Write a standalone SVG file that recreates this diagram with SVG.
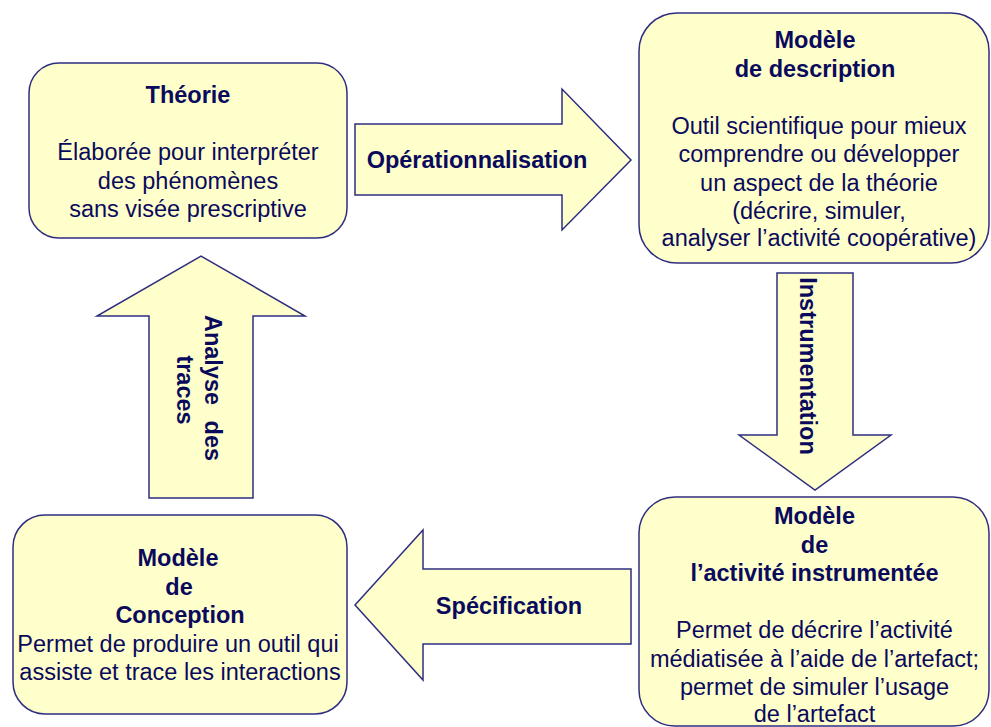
<svg xmlns="http://www.w3.org/2000/svg" width="991" height="727" viewBox="0 0 991 727">
<style>
.box{fill:#FFFFCC;stroke:#2E2E80;stroke-width:1.5}
.arr{fill:#FFFFCC;stroke:#2E2E80;stroke-width:1.5;stroke-linejoin:miter}
text{font-family:"Liberation Sans",Arial,sans-serif;font-size:23.5px;fill:#0A0A5C;text-anchor:middle}
.b{font-weight:bold}
</style>
<rect width="991" height="727" fill="#FFFFFF"/>
<g id="connectors">
<g id="operationnalisation">
<polygon class="arr" points="355,124 562,124 562,89 631,160 562,230 562,195 355,195"/>
<text class="b" x="477" y="168">Opérationnalisation</text>
</g>
<g id="instrumentation">
<polygon class="arr" points="777,273 853,273 853,435 891,435 815,490 739,435 777,435"/>
<text class="b" transform="translate(800,366) rotate(90)" x="0" y="0">Instrumentation</text>
</g>
<g id="specification">
<polygon class="arr" points="631,569 631,644 423,644 423,680 355,605 423,530 423,569"/>
<text class="b" x="509" y="614">Spécification</text>
</g>
<g id="analyse">
<polygon class="arr" points="149,498 149,316 97,316 201,256 305,316 253,316 253,498"/>
<text class="b" transform="translate(205,388) rotate(90)" x="0" y="0" word-spacing="9">Analyse des</text>
<text class="b" transform="translate(177,390) rotate(90)" x="0" y="0">traces</text>
</g>
</g>
<g id="theorie">
<rect class="box" x="29" y="63" width="318" height="175" rx="30" ry="30"/>
<text class="b" x="188" y="103">Théorie</text>
<text x="188" y="160">Élaborée pour interpréter</text>
<text x="188" y="188.5">des phénomènes</text>
<text x="188" y="217">sans visée prescriptive</text>
</g>
<g id="modele-description">
<rect class="box" x="639" y="13" width="350" height="250" rx="38" ry="38"/>
<text class="b" x="815" y="48">Modèle</text>
<text class="b" x="815" y="77">de description</text>
<text x="819" y="133.5">Outil scientifique pour mieux</text>
<text x="819" y="162">comprendre ou développer</text>
<text x="819" y="190.5">un aspect de la théorie</text>
<text x="819" y="218.5">(décrire, simuler,</text>
<text x="819" y="246">analyser l’activité coopérative)</text>
</g>
<g id="modele-activite">
<rect class="box" x="639" y="497" width="350" height="229" rx="36" ry="36"/>
<text class="b" x="814.5" y="524">Modèle</text>
<text class="b" x="814.5" y="553">de</text>
<text class="b" x="814.5" y="581">l’activité instrumentée</text>
<text x="814.5" y="638">Permet de décrire l’activité</text>
<text x="814.5" y="667">médiatisée à l’aide de l’artefact;</text>
<text x="814.5" y="694.5">permet de simuler l’usage</text>
<text x="814.5" y="722">de l’artefact</text>
</g>
<g id="modele-conception">
<rect class="box" x="13" y="515" width="334" height="199" rx="32" ry="32"/>
<text class="b" x="178" y="566">Modèle</text>
<text class="b" x="179" y="595">de</text>
<text class="b" x="180" y="623">Conception</text>
<text x="178" y="652">Permet de produire un outil qui</text>
<text x="180" y="680">assiste et trace les interactions</text>
</g>
</svg>
